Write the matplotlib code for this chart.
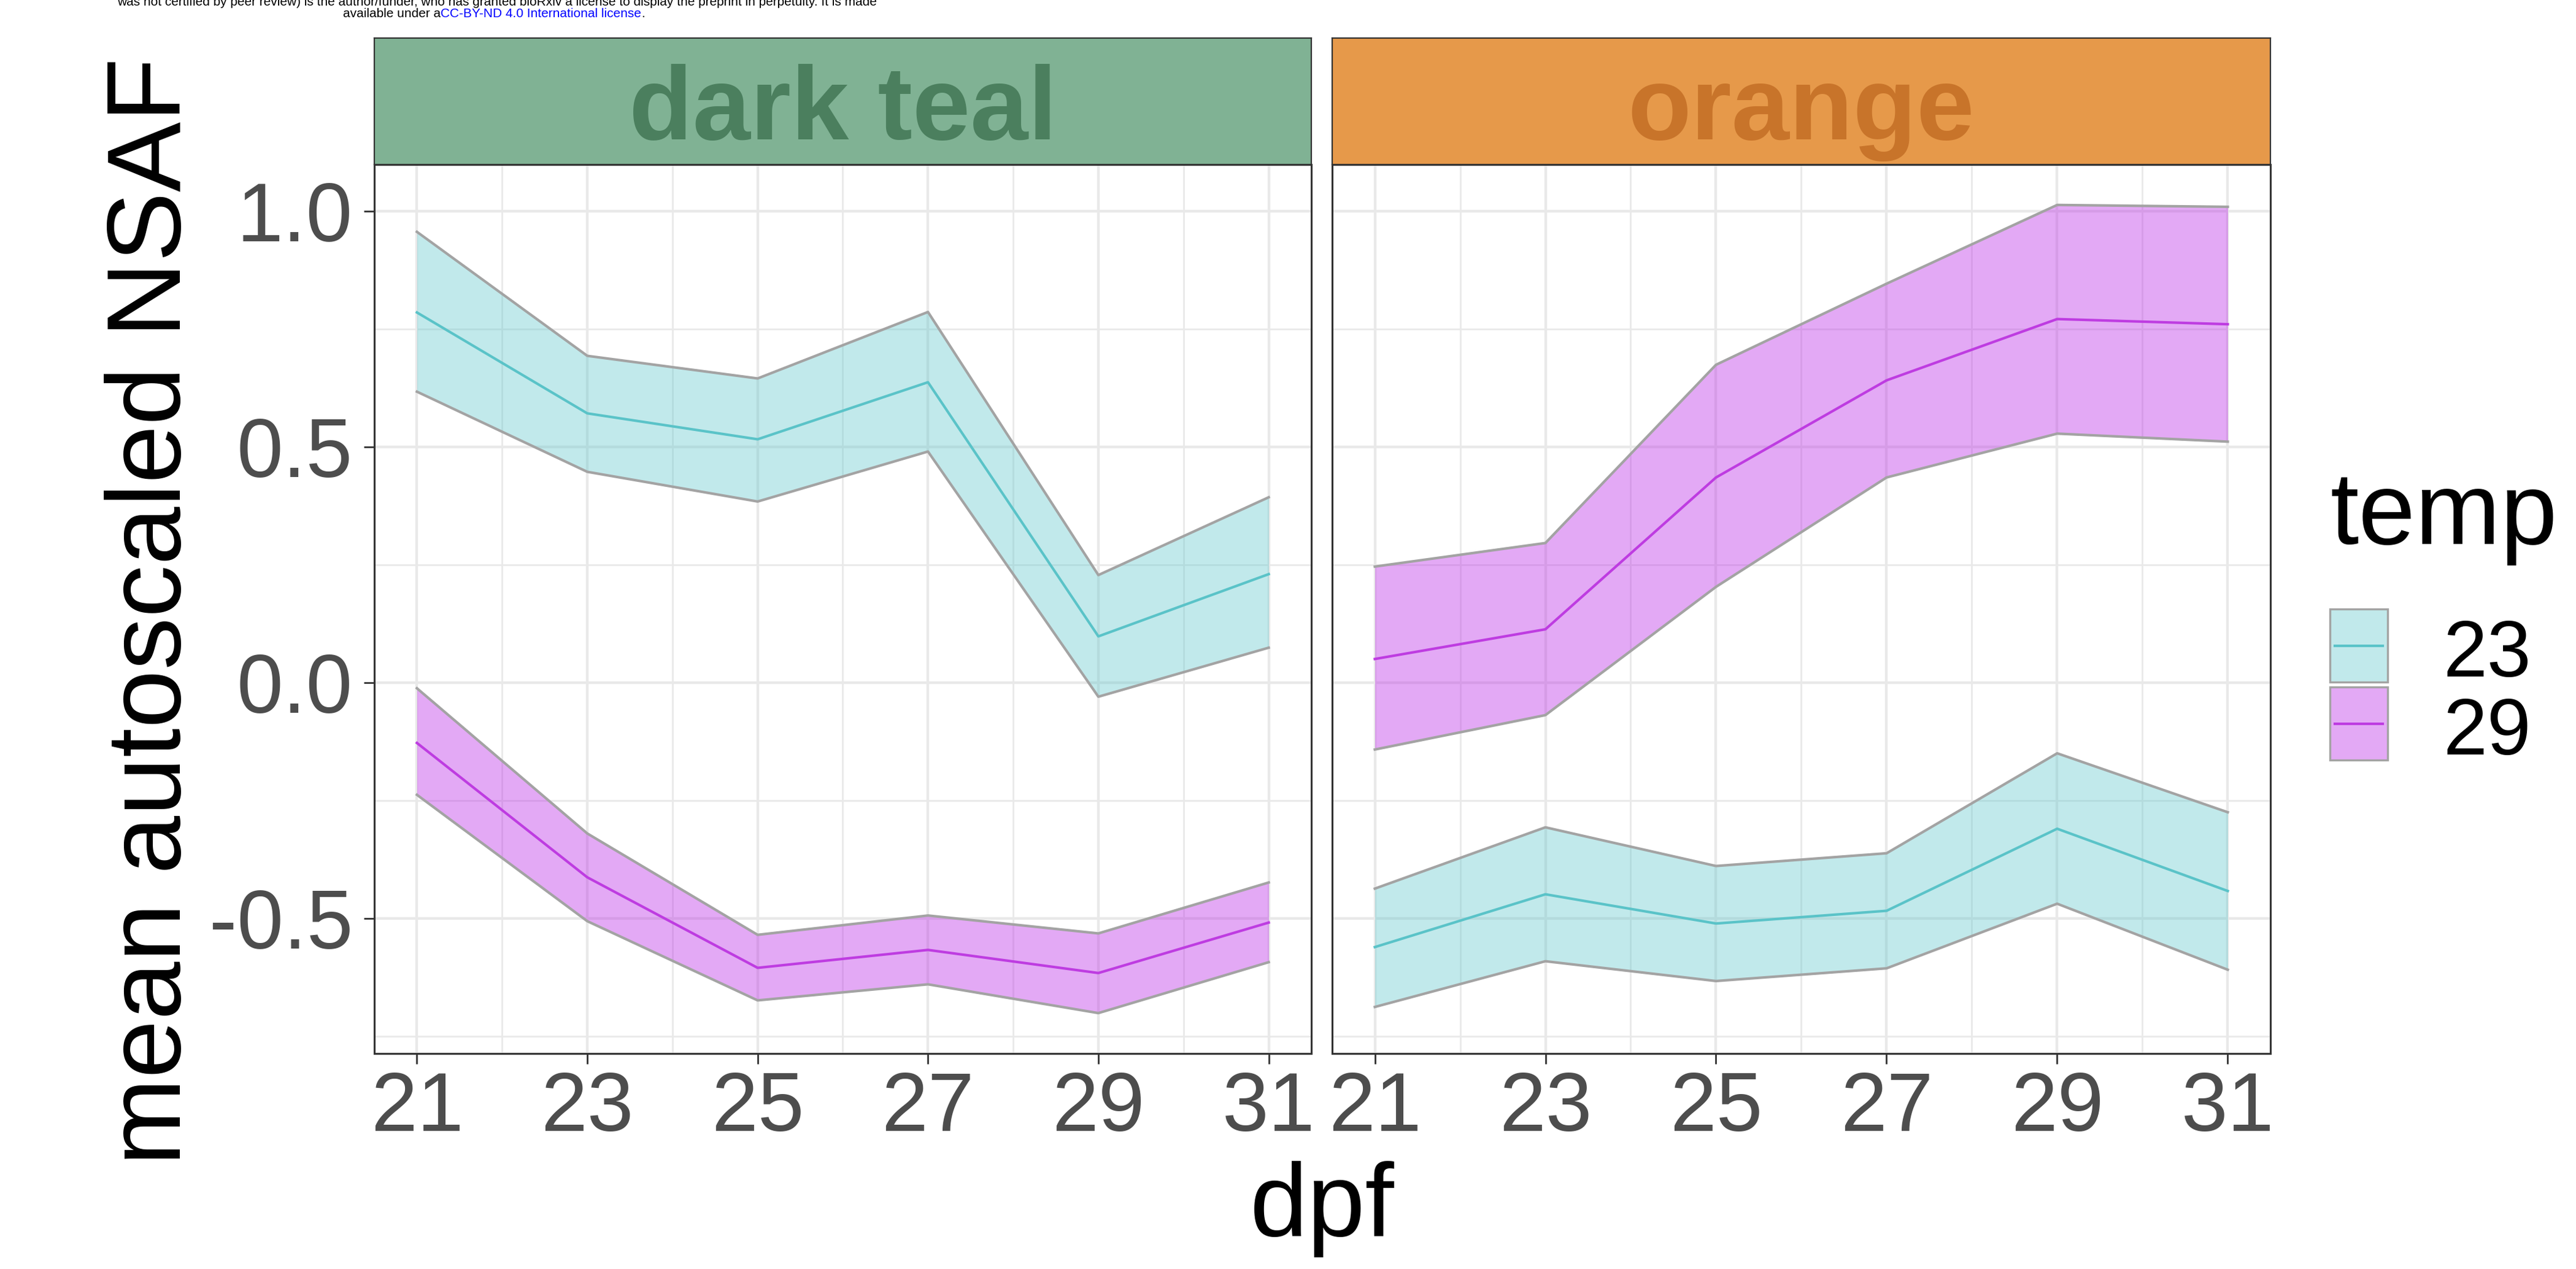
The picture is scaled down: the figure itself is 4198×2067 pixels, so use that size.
import matplotlib
matplotlib.use("Agg")
import matplotlib.pyplot as plt
from matplotlib.patches import Rectangle

plt.rcParams["font.family"] = ["Liberation Sans", "DejaVu Sans"]

W, H, DPI = 4198, 2067, 100

# ---- data ----
dpf = [21, 23, 25, 27, 29, 31]
panels = ["dark teal", "orange"]
temps = ["23", "29"]
y_ticks = [-0.5, 0.0, 0.5, 1.0]
y_tick_labels = ["-0.5", "0.0", "0.5", "1.0"]

# dark teal panel
teal_23_mean = [0.785, 0.571, 0.516, 0.637, 0.098, 0.230]
teal_23_lower = [0.617, 0.447, 0.384, 0.490, -0.030, 0.074]
teal_23_upper = [0.956, 0.693, 0.645, 0.786, 0.228, 0.393]
teal_29_mean = [-0.128, -0.413, -0.605, -0.567, -0.616, -0.509]
teal_29_lower = [-0.238, -0.506, -0.674, -0.640, -0.701, -0.593]
teal_29_upper = [-0.012, -0.320, -0.535, -0.494, -0.532, -0.424]

# orange panel
orange_23_mean = [-0.561, -0.449, -0.511, -0.484, -0.310, -0.442]
orange_23_lower = [-0.688, -0.591, -0.633, -0.606, -0.469, -0.609]
orange_23_upper = [-0.437, -0.307, -0.389, -0.362, -0.150, -0.275]
orange_29_mean = [0.050, 0.113, 0.435, 0.641, 0.771, 0.760]
orange_29_lower = [-0.142, -0.069, 0.203, 0.435, 0.528, 0.511]
orange_29_upper = [0.246, 0.296, 0.674, 0.846, 1.013, 1.009]

series = {
    "dark teal": {"23": (teal_23_lower, teal_23_mean, teal_23_upper),
                  "29": (teal_29_lower, teal_29_mean, teal_29_upper)},
    "orange": {"23": (orange_23_lower, orange_23_mean, orange_23_upper),
               "29": (orange_29_lower, orange_29_mean, orange_29_upper)},
}

# ---- styles ----
fill_col = {"23": "#66C8CD", "29": "#BB2AE6"}
fill_alpha = 0.4
line_col = {"23": "#5AC3C8", "29": "#BE3CE1"}
edge_col = "#A3A3A3"
strip_bg = {"dark teal": "#80B294", "orange": "#E6994A"}
strip_fg = {"dark teal": "#4B7F5E", "orange": "#C8742A"}
grid_col = "#E9E9E9"
dark = "#333333"


def px_box(x0, y0, x1, y1):
    # figure pixel box (top-left origin) -> add_axes rect
    return [x0 / W, 1 - y1 / H, (x1 - x0) / W, (y1 - y0) / H]


fig = plt.figure(figsize=(W / DPI, H / DPI), dpi=DPI)

# overlay in pixel units for titles, legend and header
over = fig.add_axes([0, 0, 1, 1])
over.set_xlim(0, W)
over.set_ylim(H, 0)
over.axis("off")

# y range with ggplot-style 5% expansion
all_y = [v for p in series.values() for g in p.values() for s in g for v in s]
span = max(all_y) - min(all_y)
y_lim = (min(all_y) - 0.05 * span, max(all_y) + 0.05 * span)

panel_x = {"dark teal": (610, 2137), "orange": (2171, 3700)}

for name in panels:
    x0, x1 = panel_x[name]
    ax = fig.add_axes(px_box(x0, 268, x1, 1716))
    for t in temps:
        lo, mid, hi = series[name][t]
        ax.fill_between(dpf, lo, hi, color=fill_col[t], alpha=fill_alpha, lw=0, zorder=2)
        ax.plot(dpf, lo, color=edge_col, lw=3.0, zorder=3)
        ax.plot(dpf, hi, color=edge_col, lw=3.0, zorder=3)
        ax.plot(dpf, mid, color=line_col[t], lw=3.0, zorder=4)

    ax.set_xlim(20.5, 31.5)
    ax.set_ylim(*y_lim)
    ax.set_xticks(dpf)
    ax.set_xticks([22, 24, 26, 28, 30], minor=True)
    ax.set_yticks(y_ticks)
    ax.set_yticks([-0.75, -0.25, 0.25, 0.75], minor=True)
    ax.set_yticklabels(y_tick_labels)
    ax.set_axisbelow(True)
    ax.grid(which="major", color=grid_col, lw=3.2)
    ax.grid(which="minor", color=grid_col, lw=2.0)
    ax.tick_params(which="minor", length=0)
    ax.tick_params(which="major", length=12, width=2, color=dark,
                   labelsize=98, labelcolor="#4D4D4D")
    ax.tick_params(axis="x", pad=8)
    ax.tick_params(axis="y", pad=13)
    for sp in ax.spines.values():
        sp.set_color(dark)
        sp.set_linewidth(2.2)
    if name != panels[0]:
        ax.tick_params(axis="y", left=False, labelleft=False)

    # facet strip
    st = fig.add_axes(px_box(x0, 62, x1, 268))
    st.set_facecolor(strip_bg[name])
    st.set_xticks([])
    st.set_yticks([])
    for sp in st.spines.values():
        sp.set_color(dark)
        sp.set_linewidth(1.6)
    st.text(0.5, 41 / 206, name, transform=st.transAxes, ha="center", va="baseline",
            fontsize=122, fontweight="bold", color=strip_fg[name])

# axis titles
over.text(294, 996, "mean autoscaled NSAF", rotation=90, rotation_mode="anchor",
          ha="center", va="baseline", fontsize=123, color="black")
over.text(2155, 2013, "dpf", ha="center", va="baseline", fontsize=122, color="black")

# legend
over.text(3797, 886, "temp", ha="left", va="baseline", fontsize=120, color="black")
key_top = {"23": 992, "29": 1119}
label_base = {"23": 1102, "29": 1229}
for t in temps:
    y0 = key_top[t]
    over.add_patch(Rectangle((3797, y0), 94, 119, facecolor=fill_col[t], alpha=fill_alpha,
                             edgecolor="none"))
    over.add_patch(Rectangle((3797, y0), 94, 119, facecolor="none", edgecolor=edge_col, lw=2.4))
    over.plot([3805, 3883], [y0 + 59.5, y0 + 59.5], color=line_col[t], lw=3.0)
    over.text(3982, label_base[t], t, ha="left", va="baseline", fontsize=93, color="black")

# bioRxiv header (clipped at the top edge)
over.text(810, 9, "was not certified by peer review) is the author/funder, who has granted bioRxiv "
          "a license to display the preprint in perpetuity. It is made",
          ha="center", va="baseline", fontsize=15, color="black")
fig.canvas.draw()
renderer = fig.canvas.get_renderer()
x = 559
for part, col in [("available under a", "black"),
                  ("CC-BY-ND 4.0 International license", "#0000FF"),
                  (".", "black")]:
    t = over.text(x, 28, part, ha="left", va="baseline", fontsize=15, color=col)
    x += t.get_window_extent(renderer).width

fig.savefig("out.png", dpi=DPI)
